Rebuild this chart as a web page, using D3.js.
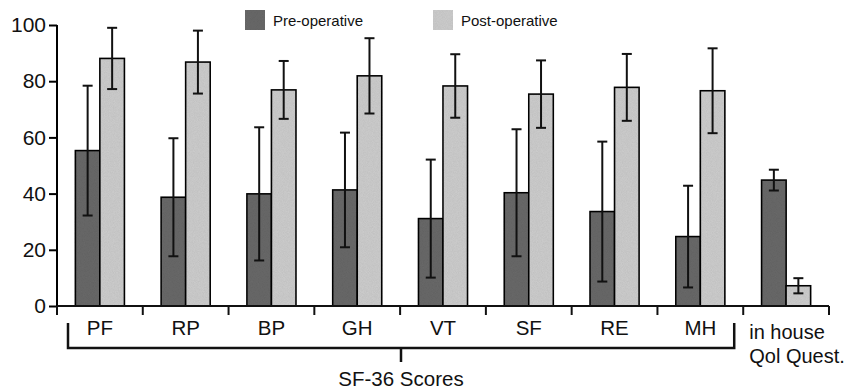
<!DOCTYPE html>
<html>
<head>
<meta charset="utf-8">
<script src="https://cdn.jsdelivr.net/npm/d3@7"></script>
<style>
  body { margin: 0; background: #fff; }
  svg { display: block; font-family: "Liberation Sans", Arial, sans-serif; }
</style>
</head>
<body>
<div id="chart"></div>
<script>
const categories = ["PF", "RP", "BP", "GH", "VT", "SF", "RE", "MH", "QOL"]
const preMean  = [55.3, 38.7, 39.9, 41.3, 31.1, 40.3, 33.6, 24.7, 44.8]
const preErr   = [23.1, 21.0, 23.7, 20.4, 21.0, 22.6, 24.9, 18.1, 3.7]
const postMean = [88.1, 86.8, 76.9, 81.9, 78.3, 75.4, 77.8, 76.6, 7.2]
const postErr  = [10.9, 11.2, 10.3, 13.4, 11.3, 12.0, 11.9, 15.1, 2.7]
const yTicks = [0, 20, 40, 60, 80, 100]
const seriesNames = ["Pre-operative", "Post-operative"]

const width = 859, height = 390
const margin = {top: 25, left: 57, right: 30, bottom: 84}
const colors = {pre: "#6a6a6a", post: "#cfcfcf"}

const svg = d3.select("#chart").append("svg")
    .attr("width", width)
    .attr("height", height)

// grain for bars
const defs = svg.append("defs")
const f = defs.append("filter").attr("id", "grain")
f.append("feTurbulence").attr("type", "fractalNoise").attr("baseFrequency", 1.2).attr("numOctaves", 1).attr("result", "n")
f.append("feColorMatrix").attr("in", "n").attr("type", "matrix")
    .attr("values", "0 0 0 0 0  0 0 0 0 0  0 0 0 0 0  0 0 0 0.18 0").attr("result", "g")
f.append("feComposite").attr("in", "g").attr("in2", "SourceGraphic").attr("operator", "in").attr("result", "gc")
f.append("feMerge").call(m => { m.append("feMergeNode").attr("in", "SourceGraphic"); m.append("feMergeNode").attr("in", "gc") })

const x = d3.scaleBand()
    .domain(categories)
    .range([margin.left, 829])
    .paddingInner(0).paddingOuter(0)

const xSub = d3.scaleBand()
    .domain(["pre", "post"])
    .range([0, x.bandwidth()])
    .paddingInner(0).paddingOuter(0.75)

const y = d3.scaleLinear()
    .domain([0, 100])
    .range([height - margin.bottom, margin.top])

const rows = categories.map((c, i) => ({
    cat: c,
    bars: [
        {key: "pre", mean: preMean[i], err: preErr[i]},
        {key: "post", mean: postMean[i], err: postErr[i]}
    ]
}))

const groups = svg.append("g").selectAll("g")
    .data(rows)
    .join("g")
    .attr("transform", d => `translate(${x(d.cat)},0)`)

groups.selectAll("rect")
    .data(d => d.bars)
    .join("rect")
    .attr("x", d => xSub(d.key))
    .attr("y", d => y(d.mean))
    .attr("width", xSub.bandwidth())
    .attr("height", d => y(0) - y(d.mean))
    .attr("fill", d => colors[d.key])
    .attr("filter", "url(#grain)")
    .attr("stroke", "#111")
    .attr("stroke-width", 1.6)

// error bars
const eb = groups.selectAll("g.err")
    .data(d => d.bars)
    .join("g")
    .attr("class", "err")
    .attr("stroke", "#111")
    .attr("stroke-width", 2)
    .attr("transform", d => `translate(${xSub(d.key) + xSub.bandwidth() / 2},0)`)
eb.append("line")
    .attr("y1", d => y(d.mean + d.err)).attr("y2", d => y(d.mean - d.err))
eb.append("line")
    .attr("x1", -5).attr("x2", 5)
    .attr("y1", d => y(d.mean + d.err)).attr("y2", d => y(d.mean + d.err))
eb.append("line")
    .attr("x1", -5).attr("x2", 5)
    .attr("y1", d => y(d.mean - d.err)).attr("y2", d => y(d.mean - d.err))

// y axis
const yAxis = svg.append("g")
    .attr("transform", `translate(${margin.left},0)`)
    .call(d3.axisLeft(y).tickValues(yTicks).tickSize(8).tickPadding(3))
yAxis.select(".domain").attr("stroke-width", 2).attr("d", `M0,${y(100)}V${y(0)}`)
yAxis.selectAll(".tick line").attr("stroke-width", 2)
yAxis.selectAll(".tick text").attr("font-size", 21).attr("fill", "#111")

// x axis with ticks at band edges
const xAxis = svg.append("g").attr("transform", `translate(0,${y(0)})`)
xAxis.append("line")
    .attr("x1", margin.left).attr("x2", x.range()[1])
    .attr("stroke", "#111").attr("stroke-width", 2)
const edges = categories.map(c => x(c)).concat([x.range()[1]])
xAxis.selectAll("line.edge")
    .data(edges)
    .join("line")
    .attr("class", "edge")
    .attr("x1", d => d).attr("x2", d => d)
    .attr("y1", 0).attr("y2", 9)
    .attr("stroke", "#111").attr("stroke-width", 2)

xAxis.selectAll("text.cat")
    .data(categories.slice(0, 8))
    .join("text")
    .attr("class", "cat")
    .attr("x", d => x(d) + x.bandwidth() / 2)
    .attr("y", 29)
    .attr("text-anchor", "middle")
    .attr("font-size", 20.5)
    .attr("fill", "#111")
    .text(d => d)

const qx = x("QOL") + 6
xAxis.append("text").attr("x", qx).attr("y", 33).attr("font-size", 20).attr("fill", "#111").text("in house")
xAxis.append("text").attr("x", qx).attr("y", 57).attr("font-size", 20).attr("fill", "#111").text("Qol Quest.")

// bracket under SF-36 groups
const bL = x("PF") + 11, bR = x("MH") + x.bandwidth() - 9
const bMid = 401
svg.append("path")
    .attr("d", `M${bL},${y(0) + 17}V${y(0) + 42}H${bR}V${y(0) + 17}M${bMid},${y(0) + 42}V${y(0) + 56}`)
    .attr("fill", "none").attr("stroke", "#111").attr("stroke-width", 2.5)
svg.append("text")
    .attr("x", bMid).attr("y", 386)
    .attr("text-anchor", "middle")
    .attr("font-size", 20.5).attr("fill", "#111")
    .text("SF-36 Scores")

// legend
const legend = svg.append("g")
const legX = [245, 433]
seriesNames.forEach((name, i) => {
    legend.append("rect")
        .attr("x", legX[i]).attr("y", 10)
        .attr("width", 20).attr("height", 20)
        .attr("fill", i === 0 ? colors.pre : colors.post)
        .attr("filter", "url(#grain)")
    legend.append("text")
        .attr("x", legX[i] + 28).attr("y", 26)
        .attr("font-size", 15).attr("fill", "#111")
        .text(name)
})
</script>
</body>
</html>
